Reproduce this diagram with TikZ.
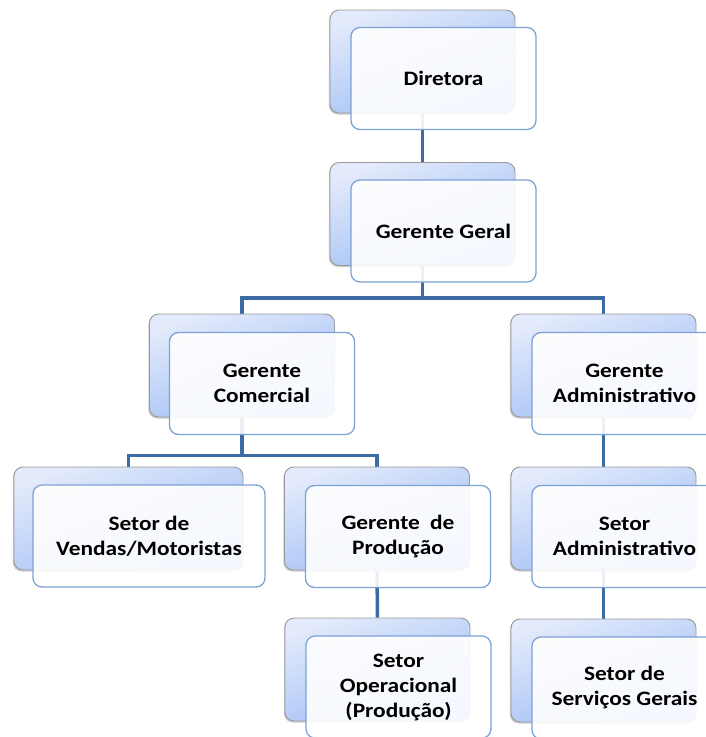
\documentclass[tikz,border=0pt]{standalone}
\usepackage{fontspec}
\setmainfont{Carlito}[FakeStretch=1.14]
\usepackage{xcolor}
\usetikzlibrary{shadows,backgrounds}
\definecolor{linkblue}{HTML}{3D6BA4}
\definecolor{frameblue}{HTML}{7DA2D6}
\definecolor{backtop}{HTML}{E2EAFB}
\definecolor{backbottom}{HTML}{9BBBF5}

\begin{document}
\begin{tikzpicture}[
  x=1pt, y=-1pt,
  link/.style={draw=linkblue, line width=3.5pt},
  backbox/.style={
    rounded corners=9pt,
    minimum width=185pt,
    minimum height=103pt,
    draw=gray!80,
    line width=0.9pt,
    top color=backtop,
    bottom color=backbottom,
    shading angle=20,
    drop shadow={shadow xshift=-1.2pt, shadow yshift=-1.5pt, opacity=0.4}
  },
  frontbox/.style={
    rounded corners=9pt,
    minimum width=185pt,
    minimum height=102pt,
    draw=frameblue,
    line width=1.3pt,
    fill=white,
    fill opacity=0.9,
    text opacity=1,
    align=center,
    font=\bfseries\fontsize{20.5}{25}\selectfont
  }
]
  \useasboundingbox (0,0) rectangle (706,737);
  \clip (0,0) rectangle (706,737);

  % level 1
  \node[backbox] (dir-b) at (422.5,61.5) {};
  \node[frontbox] (dir) at ([shift={(21,17)}]dir-b) {Diretora};

  % level 2
  \node[backbox] (ger-b) at (422.5,214) {};
  \node[frontbox] (ger) at ([shift={(21,17)}]ger-b) {Gerente Geral};

  % level 3
  \node[backbox] (com-b) at (242,365.5) {};
  \node[frontbox] (com) at ([shift={(20,18)}]com-b) {Gerente\\Comercial};
  \node[backbox] (adm-b) at (603.5,365.5) {};
  \node[frontbox] (adm) at ([shift={(21,18)}]adm-b) {Gerente\\Administrativo};

  % level 4
  \node[backbox, minimum width=229pt] (ven-b) at (128.5,518.5) {};
  \node[frontbox, minimum width=232pt] (ven) at ([shift={(20.5,17.5)}]ven-b) {Setor de\\Vendas/Motoristas};
  \node[backbox] (pro-b) at (377,518.5) {};
  \node[frontbox] (pro) at ([shift={(21,18)}]pro-b) {Gerente\enspace de\\Produção};
  \node[backbox] (sadm-b) at (603.5,518.5) {};
  \node[frontbox] (sadm) at ([shift={(21,18)}]sadm-b) {Setor\\Administrativo};

  % level 5
  \node[backbox] (ope-b) at (377.5,669.5) {};
  \node[frontbox] (ope) at ([shift={(21,17.5)}]ope-b) {Setor\\Operacional\\(Produção)};
  \node[backbox] (ser-b) at (603.5,670.5) {};
  \node[frontbox] (ser) at ([shift={(21,17.5)}]ser-b) {Setor de\\Serviços Gerais};

  % connectors
  \begin{scope}[on background layer]
    \draw[link] (dir-b.south) -- (ger-b.north);
    \draw[link] (ger-b.south) -- ++(0,32) -| (com-b.north);
    \draw[link] (ger-b.south) -- ++(0,32) -| (adm-b.north);
    \draw[link] (com-b.south) -- ++(0,38) -| (ven-b.north);
    \draw[link] (com-b.south) -- ++(0,38) -| (pro-b.north);
    \draw[link] (pro-b.south) -- (ope-b.north);
    \draw[link] (adm-b.south) -- (sadm-b.north);
    \draw[link] (sadm-b.south) -- (ser-b.north);
  \end{scope}
\end{tikzpicture}
\end{document}
